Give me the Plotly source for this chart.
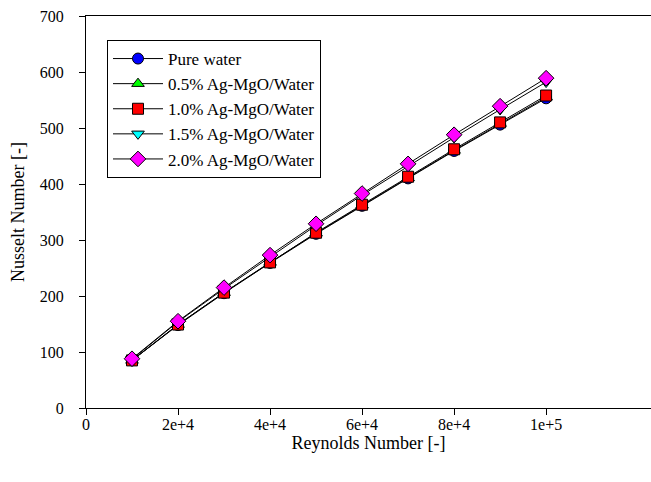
import plotly.graph_objects as go

reynolds = [10000, 20000, 30000, 40000, 50000, 60000, 70000, 80000, 90000, 100000]
pure_water = [85, 148, 205, 259, 311, 361, 410, 459, 506, 553]
agmgo_05 = [85, 149, 206, 260, 312, 362, 411, 460, 508, 555]
agmgo_10 = [85, 149, 206, 260, 313, 363, 413, 462, 510, 558]
agmgo_15 = [87, 154, 213, 270, 326, 380, 432, 483, 533, 582]
agmgo_20 = [88, 155, 215, 273, 329, 383, 436, 488, 539, 589]

series_names = ["Pure water", "0.5% Ag-MgO/Water", "1.0% Ag-MgO/Water",
                "1.5% Ag-MgO/Water", "2.0% Ag-MgO/Water"]
series_values = [pure_water, agmgo_05, agmgo_10, agmgo_15, agmgo_20]
colors = ["#0000ff", "#00ff00", "#ff0000", "#00ffff", "#ff00ff"]
symbols = ["circle", "triangle-up", "square", "triangle-down", "diamond"]
sizes = [11, 11, 11, 11, 12]

x_tickvals = [0, 20000, 40000, 60000, 80000, 100000]
x_ticktext = ["0", "2e+4", "4e+4", "6e+4", "8e+4", "1e+5"]
y_tickvals = [0, 100, 200, 300, 400, 500, 600, 700]

fig = go.Figure()
for name, vals, c, s, sz in zip(series_names, series_values, colors, symbols, sizes):
    fig.add_trace(go.Scatter(
        x=reynolds, y=vals, name=name, mode="lines+markers",
        line=dict(color="black", width=1),
        marker=dict(symbol=s, size=sz, color=c, line=dict(color="black", width=1)),
    ))

FAMILY = "Liberation Serif"
font = dict(family=FAMILY, size=16, color="black")

fig.update_layout(
    width=651, height=482,
    margin=dict(l=86, r=0, t=16, b=74),
    paper_bgcolor="white", plot_bgcolor="white",
    font=font,
    showlegend=True,
    legend=dict(
        x=(107 - 86) / 565, y=(408 - 40) / 392, xanchor="left", yanchor="top",
        bordercolor="black", borderwidth=1, bgcolor="white",
        font=dict(family=FAMILY, size=17, color="black"),
        itemwidth=50, tracegroupgap=0,
    ),
    xaxis=dict(
        range=[0, 122800], tickvals=x_tickvals, ticktext=x_ticktext,
        showgrid=False, zeroline=False, showline=True, linecolor="black", linewidth=1,
        mirror=True, ticks="outside", ticklen=6, tickcolor="black",
        tickfont=dict(family=FAMILY, size=16, color="black"),
        ticklabelstandoff=-4,
        title=dict(text="Reynolds Number [-]", standoff=2,
                   font=dict(family=FAMILY, size=18, color="black")),
    ),
    yaxis=dict(
        range=[0, 700], tickvals=y_tickvals,
        showgrid=False, zeroline=False, showline=True, linecolor="black", linewidth=1,
        mirror=False, ticks="outside", ticklen=6, tickcolor="black",
        tickfont=dict(family=FAMILY, size=16, color="black"),
        ticklabelstandoff=12,
        title=dict(text="Nusselt Number [-]", standoff=10,
                   font=dict(family=FAMILY, size=18, color="black")),
    ),
)

fig.write_html("out.html")
